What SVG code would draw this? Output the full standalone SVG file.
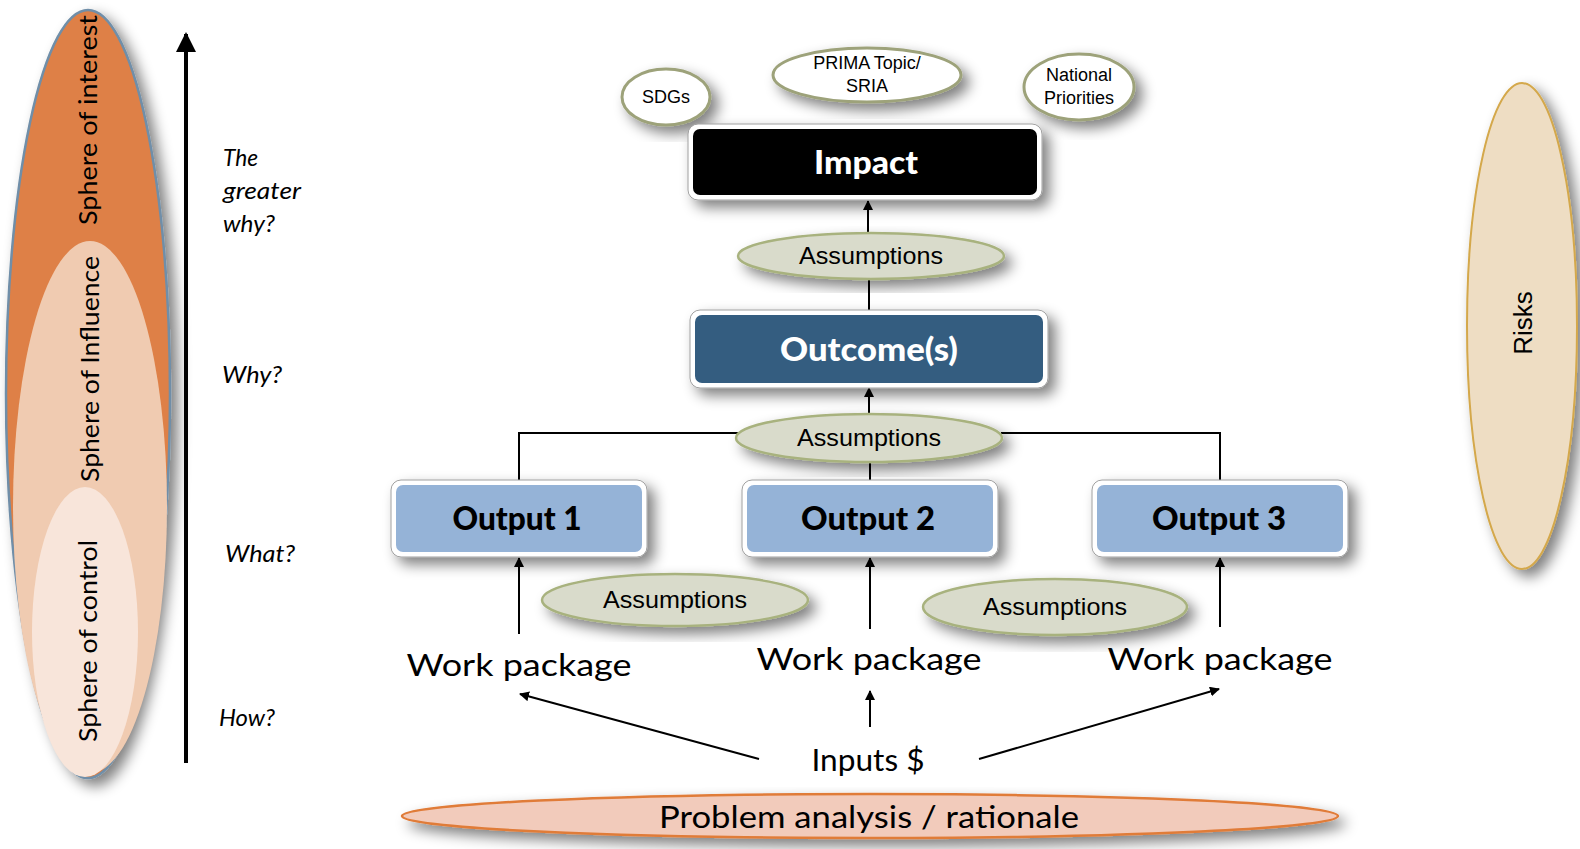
<svg xmlns="http://www.w3.org/2000/svg" width="1580" height="849" viewBox="0 0 1580 849">
<defs>
<filter id="sh" x="-30%" y="-30%" width="160%" height="160%">
<feGaussianBlur in="SourceAlpha" stdDeviation="7"/>
<feOffset dx="7" dy="7" result="b"/>
<feComponentTransfer><feFuncA type="linear" slope="0.5"/></feComponentTransfer>
<feMerge><feMergeNode/><feMergeNode in="SourceGraphic"/></feMerge>
</filter>
<marker id="ah" viewBox="0 0 10 10" refX="9" refY="5" markerWidth="5" markerHeight="5" orient="auto-start-reverse">
<path d="M0,0 L10,5 L0,10 z" fill="#000"/>
</marker>
<style>
.geo{font-family:Lato,"Noto Sans",sans-serif;fill:#000}
.ar{font-family:"Liberation Sans",Arial,sans-serif;fill:#000}
.q{font-family:Lato,"Noto Sans",sans-serif;font-style:italic;font-size:24px;fill:#000}
.box{font-family:Lato,"Noto Sans",sans-serif;font-weight:900;text-anchor:middle}
.ass{fill:#D9DBCB;stroke:#A8B27E;stroke-width:2.5}
.top{fill:#fff;stroke:#9DA27A;stroke-width:3}
.ln{stroke:#000;stroke-width:2;fill:none}
.ou{fill:#fff;stroke:#A0A0A0;stroke-width:1}
</style>
</defs>
<rect width="1580" height="849" fill="#fff"/>

<g id="spheres">
<ellipse cx="88" cy="394" rx="82" ry="384" fill="#DE8046" stroke="#6F8EA8" stroke-width="2.5" filter="url(#sh)"/>
<ellipse cx="90" cy="507" rx="77" ry="266" fill="#F0CBB1"/>
<ellipse cx="85" cy="632" rx="53" ry="145" fill="#F8E5DA"/>
<text class="geo" font-size="25" text-anchor="middle" transform="translate(88,120) rotate(-90)" y="9" textLength="210" lengthAdjust="spacingAndGlyphs">Sphere of interest</text>
<text class="geo" font-size="25" text-anchor="middle" transform="translate(90,369) rotate(-90)" y="9" textLength="226" lengthAdjust="spacingAndGlyphs">Sphere of Influence</text>
<text class="geo" font-size="25" text-anchor="middle" transform="translate(88,641) rotate(-90)" y="9" textLength="202" lengthAdjust="spacingAndGlyphs">Sphere of control</text>
</g>

<g id="axis">
<line x1="186" y1="763" x2="186" y2="34" stroke="#000" stroke-width="4" marker-end="url(#ah)"/>
<text class="q" x="223" y="166" textLength="35" lengthAdjust="spacingAndGlyphs">The</text>
<text class="q" x="223" y="199" textLength="78" lengthAdjust="spacingAndGlyphs">greater</text>
<text class="q" x="223" y="232" textLength="52" lengthAdjust="spacingAndGlyphs">why?</text>
<text class="q" x="222" y="383" textLength="60" lengthAdjust="spacingAndGlyphs">Why?</text>
<text class="q" x="225" y="562" textLength="70" lengthAdjust="spacingAndGlyphs">What?</text>
<text class="q" x="219" y="726" textLength="56" lengthAdjust="spacingAndGlyphs">How?</text>
</g>

<g id="connectors">
<line class="ln" x1="868" y1="233" x2="868" y2="201" marker-end="url(#ah)"/>
<line class="ln" x1="869" y1="279" x2="869" y2="310"/>
<line class="ln" x1="869" y1="414" x2="869" y2="388" marker-end="url(#ah)"/>
<polyline class="ln" points="519,481 519,433 738,433"/>
<polyline class="ln" points="1001,433 1220,433 1220,481"/>
<line class="ln" x1="870" y1="462" x2="870" y2="481"/>
<line class="ln" x1="519" y1="634" x2="519" y2="558" marker-end="url(#ah)"/>
<line class="ln" x1="870" y1="629" x2="870" y2="558" marker-end="url(#ah)"/>
<line class="ln" x1="1220" y1="627" x2="1220" y2="558" marker-end="url(#ah)"/>
<line class="ln" x1="759" y1="759" x2="520" y2="694" marker-end="url(#ah)"/>
<line class="ln" x1="870" y1="727" x2="870" y2="691" marker-end="url(#ah)"/>
<line class="ln" x1="979" y1="759" x2="1219" y2="689" marker-end="url(#ah)"/>
</g>

<g id="sdgs">
<ellipse class="top" cx="666" cy="97" rx="44" ry="28" filter="url(#sh)"/>
<text class="ar" font-size="18" x="666" y="103" text-anchor="middle">SDGs</text>
</g>
<g id="prima">
<ellipse class="top" cx="867" cy="75" rx="94" ry="27" filter="url(#sh)"/>
<text class="ar" font-size="18" x="867" y="69" text-anchor="middle">PRIMA Topic/</text>
<text class="ar" font-size="18" x="867" y="92" text-anchor="middle">SRIA</text>
</g>
<g id="national">
<ellipse class="top" cx="1079" cy="87" rx="55" ry="33" filter="url(#sh)"/>
<text class="ar" font-size="18" x="1079" y="81" text-anchor="middle">National</text>
<text class="ar" font-size="18" x="1079" y="104" text-anchor="middle">Priorities</text>
</g>

<g id="impact">
<rect class="ou" x="688" y="124" width="354" height="76" rx="10" filter="url(#sh)"/>
<rect x="693" y="129" width="344" height="66" rx="7" fill="#000"/>
<text class="box" x="866" y="174" font-size="33" fill="#fff" textLength="104" lengthAdjust="spacingAndGlyphs">Impact</text>
</g>

<g id="assumptions1">
<ellipse class="ass" cx="871" cy="256" rx="133" ry="23" filter="url(#sh)"/>
<text class="ar" font-size="24" x="871" y="264" text-anchor="middle" textLength="144" lengthAdjust="spacingAndGlyphs">Assumptions</text>
</g>

<g id="outcome">
<rect class="ou" x="690" y="310" width="358" height="78" rx="10" filter="url(#sh)"/>
<rect x="695" y="315" width="348" height="68" rx="7" fill="#345D80"/>
<text class="box" x="869" y="361" font-size="33" fill="#fff" textLength="178" lengthAdjust="spacingAndGlyphs">Outcome(s)</text>
</g>

<g id="assumptions2">
<ellipse class="ass" cx="869" cy="438" rx="133" ry="24" filter="url(#sh)"/>
<text class="ar" font-size="24" x="869" y="446" text-anchor="middle" textLength="144" lengthAdjust="spacingAndGlyphs">Assumptions</text>
</g>

<g id="output1">
<rect class="ou" x="391" y="480" width="256" height="77" rx="10" filter="url(#sh)"/>
<rect x="396" y="485" width="246" height="67" rx="7" fill="#95B3D7"/>
<text class="box" x="517" y="530" font-size="33" fill="#000" textLength="129" lengthAdjust="spacingAndGlyphs">Output 1</text>
</g>
<g id="output2">
<rect class="ou" x="742" y="480" width="256" height="77" rx="10" filter="url(#sh)"/>
<rect x="747" y="485" width="246" height="67" rx="7" fill="#95B3D7"/>
<text class="box" x="868" y="530" font-size="33" fill="#000" textLength="134" lengthAdjust="spacingAndGlyphs">Output 2</text>
</g>
<g id="output3">
<rect class="ou" x="1092" y="480" width="256" height="77" rx="10" filter="url(#sh)"/>
<rect x="1097" y="485" width="246" height="67" rx="7" fill="#95B3D7"/>
<text class="box" x="1219" y="530" font-size="33" fill="#000" textLength="134" lengthAdjust="spacingAndGlyphs">Output 3</text>
</g>

<g id="assumptions3">
<ellipse class="ass" cx="675" cy="600" rx="133" ry="26" filter="url(#sh)"/>
<text class="ar" font-size="24" x="675" y="608" text-anchor="middle" textLength="144" lengthAdjust="spacingAndGlyphs">Assumptions</text>
</g>
<g id="assumptions4">
<ellipse class="ass" cx="1055" cy="607" rx="132" ry="28" filter="url(#sh)"/>
<text class="ar" font-size="24" x="1055" y="615" text-anchor="middle" textLength="144" lengthAdjust="spacingAndGlyphs">Assumptions</text>
</g>

<g id="wp1"><text class="geo" font-size="31" x="519" y="676" text-anchor="middle" textLength="225" lengthAdjust="spacingAndGlyphs">Work package</text></g>
<g id="wp2"><text class="geo" font-size="31" x="869" y="670" text-anchor="middle" textLength="225" lengthAdjust="spacingAndGlyphs">Work package</text></g>
<g id="wp3"><text class="geo" font-size="31" x="1220" y="670" text-anchor="middle" textLength="225" lengthAdjust="spacingAndGlyphs">Work package</text></g>

<g id="inputs"><text class="geo" font-size="31" x="868" y="771" text-anchor="middle" textLength="113" lengthAdjust="spacingAndGlyphs">Inputs $</text></g>

<g id="problem">
<ellipse cx="870" cy="816" rx="468" ry="22" fill="#F2CBBB" stroke="#E07B39" stroke-width="2.5" filter="url(#sh)"/>
<text class="geo" font-size="31" x="869" y="828" text-anchor="middle" textLength="420" lengthAdjust="spacingAndGlyphs">Problem analysis / rationale</text>
</g>

<g id="risks">
<ellipse cx="1522" cy="326" rx="55" ry="243" fill="#EEDDC3" stroke="#D4A84B" stroke-width="2" filter="url(#sh)"/>
<text class="ar" font-size="26" text-anchor="middle" transform="translate(1523,323) rotate(-90)" y="9">Risks</text>
</g>
</svg>
